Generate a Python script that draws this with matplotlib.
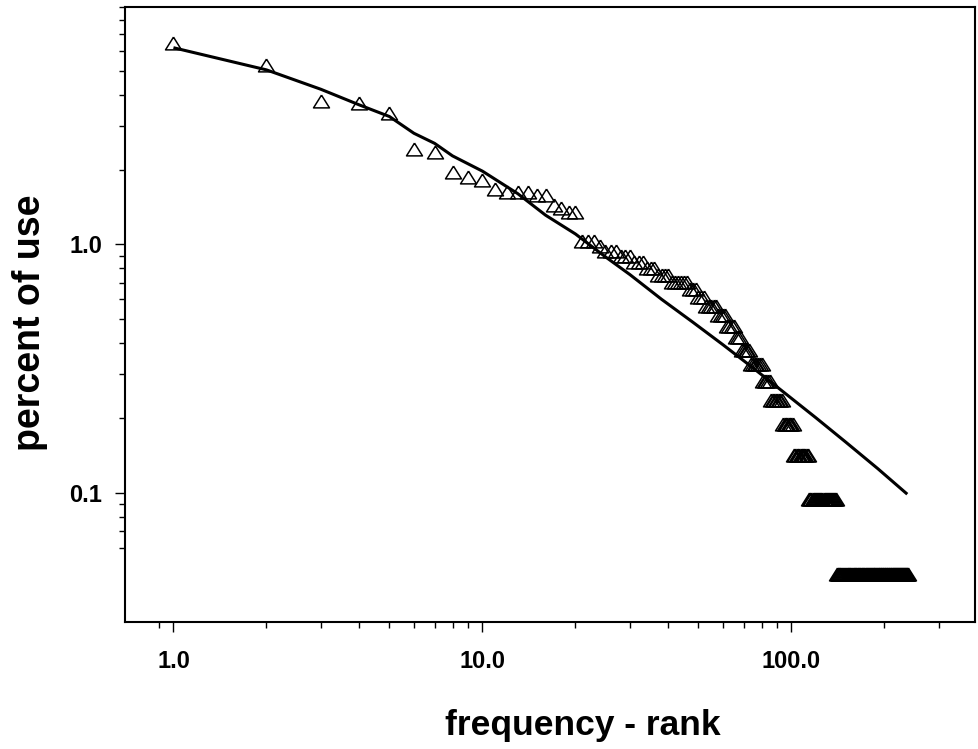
import numpy as np
import matplotlib
matplotlib.use("Agg")
import matplotlib.pyplot as plt
from matplotlib.ticker import FixedLocator, NullFormatter

plt.rcParams['font.family'] = ['Liberation Sans', 'DejaVu Sans']

# ---- data ----
# percent of use for the 20 most frequent ranks
top_percent = [6.47, 5.25, 3.77, 3.72, 3.39, 2.42, 2.36, 1.95, 1.86, 1.815,
               1.67, 1.62, 1.62, 1.62, 1.58, 1.58, 1.44, 1.40, 1.35, 1.35]
# tied levels for the remaining ranks (percent) and how many ranks share each level
tail_levels = [1.034, 0.987, 0.940, 0.893, 0.846, 0.799, 0.752, 0.705, 0.658,
               0.611, 0.564, 0.517, 0.470, 0.423, 0.376, 0.329, 0.282, 0.235,
               0.188, 0.141, 0.094, 0.047]
tail_sizes = [3, 1, 3, 3, 3, 3, 4, 6, 3, 3, 5, 4, 4, 3, 5, 7, 5, 8, 8, 12, 26, 99]

# fitted curve
fit_rank = [1, 2, 3, 4, 5, 6, 7, 8, 10, 13, 16, 20, 25, 30, 38, 48, 60, 75,
            95, 120, 150, 190, 237]
fit_percent = [6.19, 5.04, 4.21, 3.64, 3.27, 2.80, 2.55, 2.27, 1.97, 1.60,
               1.31, 1.10, 0.89, 0.755, 0.600, 0.485, 0.394, 0.318, 0.252,
               0.200, 0.1595, 0.125, 0.0985]

x_major = [1, 10, 100]
x_major_labels = ['1.0', '10.0', '100.0']
y_major = [0.1, 1]
y_major_labels = ['0.1', '1.0']

percent = np.concatenate([top_percent, np.repeat(tail_levels, tail_sizes)])
rank = np.arange(1, len(percent) + 1)

# ---- figure ----
fig = plt.figure(figsize=(9.79, 7.49), dpi=100)
ax = fig.add_axes([125/979, 1 - 622/749, 850/979, 615/749])
ax.set_xscale('log')
ax.set_yscale('log')

tri = [(0, 0.8), (-1, -0.8), (1, -0.8), (0, 0.8)]
ax.plot(rank, percent, linestyle='none', marker=tri, markersize=11.5,
        markerfacecolor='none', markeredgecolor='black', markeredgewidth=1.1)
ax.plot(fit_rank, fit_percent, color='black', linewidth=2.2, solid_capstyle='butt')

ax.set_xlim(0.697, 392.6)
ax.set_ylim(0.0301, 9.03)

ax.xaxis.set_major_locator(FixedLocator(x_major))
ax.set_xticklabels(x_major_labels)
ax.yaxis.set_major_locator(FixedLocator(y_major))
ax.set_yticklabels(y_major_labels)
x_minor = [0.9] + [m * d for d in (1, 10) for m in range(2, 10)] + [200, 300]
y_minor = [0.06, 0.07, 0.08, 0.09] + [m / 10 for m in range(2, 10)] + list(range(2, 10))
ax.xaxis.set_minor_locator(FixedLocator(x_minor))
ax.yaxis.set_minor_locator(FixedLocator(y_minor))
ax.xaxis.set_minor_formatter(NullFormatter())
ax.yaxis.set_minor_formatter(NullFormatter())

ax.tick_params(which='both', direction='out', top=False, right=False, width=1.0)
ax.tick_params(which='major', length=7.5)
ax.tick_params(which='minor', length=4)
ax.tick_params(axis='x', which='major', pad=13, labelsize=17)
ax.tick_params(axis='y', which='major', pad=9, labelsize=17)
for lab in ax.get_xticklabels() + ax.get_yticklabels():
    lab.set_fontweight('bold')
for s in ax.spines.values():
    s.set_linewidth(1.5)

fig.text(582.5/979, 1 - 735/749, 'frequency - rank', ha='center', va='baseline',
         fontsize=25.5, fontweight='bold')
fig.text(30/979, 1 - 323/749, 'percent of use', ha='center', va='center',
         rotation=90, fontsize=27, fontweight='bold')

fig.savefig('out.png', dpi=100)
